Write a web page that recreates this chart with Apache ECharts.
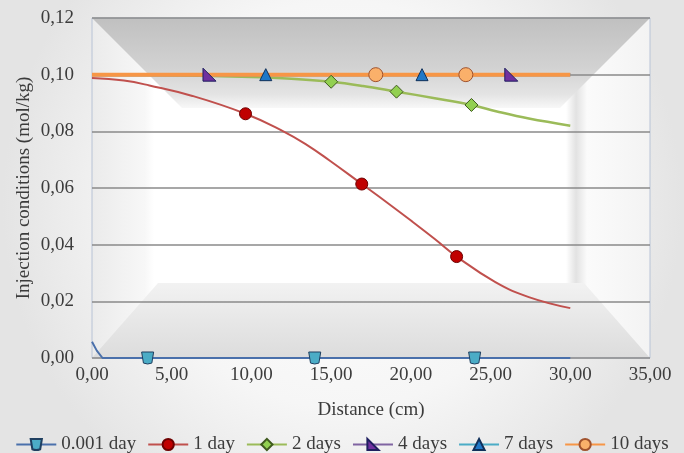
<!DOCTYPE html>
<html>
<head>
<meta charset="utf-8">
<script src="https://cdn.jsdelivr.net/npm/echarts@6/dist/echarts.min.js"></script>
<style>
  html, body { margin: 0; padding: 0; background: #f1f1f1; }
  #chart { width: 684px; height: 453px; }
</style>
</head>
<body>
<div id="chart"></div>
<script>
// series names as in the legend
const seriesNames = ['0.001 day', '1 day', '2 days', '4 days', '7 days', '10 days'];

// distance (cm) / concentration (mol/kg)
const dist001 = [0, 0.3, 0.66, 3.49, 8, 13.97, 19, 24.0, 30];
const conc001 = [0.0057, 0.0026, 0, 0, 0, 0, 0, 0, 0];
const marks001 = [3.49, 13.97, 24.0];

const dist1 = [0, 2, 3.6, 6.3, 9.63, 12, 13.4, 14.9, 16.92, 18.5, 20.1, 21.5, 22.87, 25.3, 27.4, 30];
const conc1 = [0.0988, 0.0979, 0.0962, 0.0925, 0.0862, 0.0800, 0.0755, 0.0697, 0.0614, 0.0549, 0.0481, 0.0420, 0.0358, 0.0268, 0.0215, 0.0176];
const marks1 = [9.63, 16.92, 22.87];

const dist2 = [0, 5, 10, 12.5, 15.0, 17, 19.1, 21.5, 23.8, 25.4, 27.4, 30];
const conc2 = [0.1000, 0.0998, 0.0992, 0.0986, 0.0975, 0.0960, 0.0940, 0.0917, 0.0893, 0.0870, 0.0845, 0.0820];
const marks2 = [15.0, 19.1, 23.8];

const dist4 = [0, 7.37, 26.3, 30];
const conc4 = [0.1, 0.1, 0.1, 0.1];
const marks4 = [7.37, 26.3];

const dist7 = [0, 10.9, 20.7, 30];
const conc7 = [0.1, 0.1, 0.1, 0.1];
const marks7 = [10.9, 20.7];

const dist10 = [0, 17.8, 23.45, 30];
const conc10 = [0.1, 0.1, 0.1, 0.1];
const marks10 = [17.8, 23.45];

const font = 'Liberation Serif';
const textColor = '#3c3c3c';

// per-series look (line colour, marker)
const styles = [
  { line: '#4a70ab', width: 2, symbol: 'path://M0,0 L10,0 L8.5,9 Q5,10.5 1.5,9 Z', size: 12, fill: '#4bacc6', border: '#1f3f60', smooth: false },
  { line: '#c0504d', width: 2, symbol: 'circle', size: 12, fill: '#c00000', border: '#6e0000', smooth: 0.45 },
  { line: '#9bbb59', width: 2.5, symbol: 'diamond', size: 13, fill: '#92d050', border: '#3f5a1e', smooth: 0.4 },
  { line: '#8064a2', width: 3, symbol: 'path://M0,0 L0,10 L10,10 Z', size: 13, fill: '#7030a0', border: '#1f1f5f', smooth: false },
  { line: '#4bacc6', width: 3, symbol: 'triangle', size: 12, fill: '#1f78c8', border: '#10305a', smooth: false },
  { line: '#f79646', width: 4, symbol: 'circle', size: 14, fill: '#fab06a', border: '#a0522d', smooth: false }
];

const sets = [
  [dist001, conc001, marks001],
  [dist1, conc1, marks1],
  [dist2, conc2, marks2],
  [dist4, conc4, marks4],
  [dist7, conc7, marks7],
  [dist10, conc10, marks10]
];

const fmt = v => v.toFixed(2).replace('.', ',');

const series = [];
sets.forEach(([xs, ys, marks], i) => {
  const s = styles[i];
  series.push({
    name: seriesNames[i],
    type: 'line',
    data: xs.map((x, j) => [x, ys[j]]),
    showSymbol: false,
    symbol: s.symbol,
    symbolSize: s.size,
    smooth: s.smooth,
    lineStyle: { color: s.line, width: s.width },
    itemStyle: { color: s.fill, borderColor: s.border, borderWidth: 1 },
    z: 2 + i * 0.1,
    silent: true
  });
});
sets.forEach(([xs, ys, marks], i) => {
  const s = styles[i];
  series.push({
    name: seriesNames[i],
    type: 'scatter',
    data: xs.map((x, j) => [x, ys[j]]).filter(p => marks.includes(p[0])),
    symbol: s.symbol,
    symbolSize: s.size,
    itemStyle: { color: s.fill, borderColor: s.border, borderWidth: 1, opacity: 1 },
    z: 5,
    silent: true
  });
});

const chart = echarts.init(document.getElementById('chart'), null, { renderer: 'canvas' });

chart.setOption({
  animation: false,
  backgroundColor: {
    type: 'radial', x: 0.5, y: 0.45, r: 0.75,
    colorStops: [{ offset: 0, color: '#ffffff' }, { offset: 0.6, color: '#f6f6f6' }, { offset: 1, color: '#e4e4e4' }]
  },
  grid: {
    left: 92, right: 34, top: 18, bottom: 95,
    show: true, borderColor: '#b8c3d6', borderWidth: 1, backgroundColor: 'transparent'
  },
  legend: {
    data: seriesNames,
    top: 430,
    left: 'center',
    itemWidth: 40,
    itemHeight: 14,
    itemGap: 11,
    textStyle: { fontFamily: font, fontSize: 19, color: textColor }
  },
  xAxis: {
    type: 'value',
    min: 0, max: 35, interval: 5,
    name: 'Distance (cm)',
    nameLocation: 'middle',
    nameGap: 43,
    nameMoveOverlap: false,
    nameTextStyle: { fontFamily: font, fontSize: 19, color: textColor },
    axisLine: { show: false },
    axisTick: { show: false },
    splitLine: { show: false },
    axisLabel: { formatter: fmt, fontFamily: font, fontSize: 19, color: textColor, margin: 8 }
  },
  yAxis: {
    type: 'value',
    min: 0, max: 0.12, interval: 0.02,
    name: 'Injection conditions (mol/kg)',
    nameLocation: 'middle',
    nameGap: 58,
    nameMoveOverlap: false,
    nameTextStyle: { fontFamily: font, fontSize: 19, color: textColor },
    axisLine: { show: false },
    axisTick: { show: false },
    splitLine: { lineStyle: { color: '#8a8a8a', width: 1.5 } },
    axisLabel: { formatter: fmt, fontFamily: font, fontSize: 19, color: textColor, margin: 18 }
  },
  series: series
});

// bevelled plot-area fill, placed from the grid corners
const [x0, y1] = chart.convertToPixel({ gridIndex: 0 }, [0, 0]);
const [x1, y0] = chart.convertToPixel({ gridIndex: 0 }, [35, 0.12]);
const vgrad = (a, b) => ({ type: 'linear', x: 0, y: 0, x2: 0, y2: 1, colorStops: [{ offset: 0, color: a }, { offset: 1, color: b }] });
const hgrad = stops => ({ type: 'linear', x: 0, y: 0, x2: 1, y2: 0, colorStops: stops });

chart.setOption({
  graphic: [
    { type: 'rect', z: -10, shape: { x: x0, y: y0, width: x1 - x0, height: y1 - y0 }, style: { fill: '#ffffff' }, silent: true },
    { type: 'rect', z: -9, shape: { x: x0, y: y0, width: 62, height: y1 - y0 },
      style: { fill: hgrad([{ offset: 0, color: '#ebebeb' }, { offset: 0.85, color: '#f7f7f7' }, { offset: 1, color: '#ffffff' }]) }, silent: true },
    { type: 'rect', z: -9, shape: { x: x1 - 84, y: y0, width: 84, height: y1 - y0 },
      style: { fill: hgrad([{ offset: 0, color: '#ffffff' }, { offset: 0.12, color: '#e2e2e2' }, { offset: 0.25, color: '#fbfbfb' }, { offset: 1, color: '#f3f3f3' }]) }, silent: true },
    { type: 'polygon', z: -8, shape: { points: [[x0, y0], [x1, y0], [x1 - 90, y0 + 90], [x0 + 90, y0 + 90]] },
      style: { fill: { type: 'linear', x: 0, y: 0, x2: 0, y2: 1, colorStops: [
        { offset: 0, color: '#c0c0c0' }, { offset: 0.55, color: '#d2d2d2' }, { offset: 0.85, color: '#e4e4e4' }, { offset: 1, color: '#f8f8f8' }] } }, silent: true },
    { type: 'polygon', z: -8, shape: { points: [[x0, y1], [x1, y1], [x1 - 66, y1 - 75], [x0 + 66, y1 - 75]] },
      style: { fill: vgrad('#f2f2f2', '#dcdcdc') }, silent: true }
  ]
});
</script>
</body>
</html>
